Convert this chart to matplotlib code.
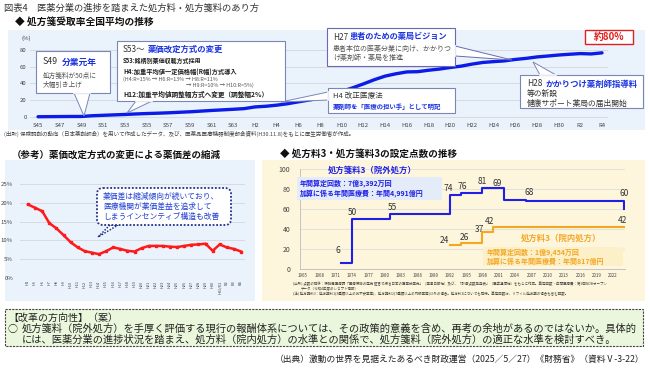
import matplotlib
matplotlib.use('Agg')

import matplotlib.pyplot as plt
from matplotlib.patches import Rectangle, Polygon, FancyBboxPatch

plt.rcParams['font.family'] = ['Noto Sans CJK JP', 'DejaVu Sans']

W, H = 650, 373

# 処方箋受取率 全国平均 (%), S45(1970) - R4(2022)
rate_years = list(range(1970, 2023))
rate_values = [0.3, 0.4, 0.5, 0.6, 0.6, 1.5, 2.0, 2.5, 3.0, 3.6,
               4.1, 4.5, 5.0, 5.6, 6.2, 7.0, 7.8, 8.5, 9.2, 10.0,
               12.0, 12.8, 14.1, 15.8, 18.1, 20.3, 22.5, 26.0, 30.5, 34.8,
               39.5, 44.5, 48.8, 51.6, 53.8, 54.1, 55.8, 57.2, 59.1, 60.7,
               63.1, 65.1, 66.1, 67.0, 68.7, 70.0, 71.7, 72.8, 74.0, 74.9,
               75.7, 75.3, 76.6]
top_tick_years = list(range(1970, 2023, 2))
top_tick_labels = (['S%d' % n for n in range(45, 64, 2)]
                   + ['H%d' % n for n in range(2, 31, 2)] + ['R2', 'R4'])

# 薬価差 (%)
gap_labels = ['H%d' % n for n in range(4, 31)] + ['H31/R1', 'R2', 'R3', 'R4']
gap_values = [19.6, 18.7, 17.8, 14.6, 13.2, 11.4, 9.5, 8.1, 7.1, 6.7,
              6.3, 7.1, 8.1, 7.7, 7.2, 7.0, 7.9, 8.5, 8.5, 8.5,
              8.3, 8.2, 8.5, 8.8, 8.9, 9.1, 7.2, 8.9, 8.1, 7.7, 7.0]

# 処方箋料3（院外処方） / 処方料3（院内処方）の点数
out_years = [1972, 1974, 1981, 1992, 1994, 1998, 2002, 2006, 2024]
out_points = [6, 50, 55, 74, 76, 81, 69, 68, 60]
in_years = [1992, 1994, 1998, 2000, 2024]
in_points = [24, 26, 37, 42, 42]
right_ticks = list(range(1965, 2023, 3))

fig = plt.figure(figsize=(6.5, 3.73), dpi=100)


def px_axes(x0, y0, x1, y1, **kw):
    return fig.add_axes([x0 / W, 1 - y1 / H, (x1 - x0) / W, (y1 - y0) / H], **kw)


bg = px_axes(0, 0, W, H, zorder=-5)
bg.set_xlim(0, W)
bg.set_ylim(H, 0)
bg.axis('off')
bg.add_patch(Rectangle((8, 30), 637, 100, fc='#eaf2fb', ec='none'))
bg.add_patch(Rectangle((5, 160), 250, 141, fc='#eaf2fb', ec='none'))
bg.add_patch(Rectangle((262, 160), 383, 141, fc='#fdf6dc', ec='none'))

# ---- top chart
ax1 = px_axes(30, 45.8, 608, 119.5)
ax1.set_facecolor('none')
ax1.plot(rate_years, rate_values, color='#0b1be8', lw=2.4, solid_capstyle='round')
ax1.set_xlim(1969.26, 2022.55)
ax1.set_ylim(-3, 85)
ax1.set_yticks([0, 20, 40, 60, 80])
ax1.set_xticks(top_tick_years, top_tick_labels)
ax1.tick_params(length=0, labelsize=4.3, labelcolor='#444444', pad=2.5)
ax1.grid(axis='y', color='#d3d7dd', lw=0.6)
for s in ax1.spines.values():
    s.set_visible(False)

# ---- bottom left chart
ax2 = px_axes(20, 182.4, 245, 277.7)
ax2.set_facecolor('none')
ax2.plot(range(len(gap_values)), gap_values, color='#ff1a1a', lw=1.8,
         marker='s', ms=1.8)
ax2.set_xlim(-1.13, 30.56)
ax2.set_ylim(0, 25.5)
ax2.set_yticks([0, 5, 10, 15, 20, 25], ['0%', '5%', '10%', '15%', '20%', '25%'])
ax2.set_xticks(range(len(gap_labels)), gap_labels, rotation=90)
ax2.tick_params(axis='y', length=0, labelsize=4.3, labelcolor='#444444', pad=5)
ax2.tick_params(axis='x', length=0, labelsize=2.8, labelcolor='#444444', pad=2)
ax2.grid(axis='y', color='#d3d7dd', lw=0.6)
for s in ax2.spines.values():
    s.set_visible(False)

# ---- bottom right chart
ax3 = px_axes(300, 169, 625, 269)
ax3.set_facecolor('none')
ax3.step(out_years, out_points, where='post', color='#1f1fe6', lw=1.5)
ax3.step(in_years, in_points, where='post', color='#f5a623', lw=1.5)
ax3.set_xlim(1964.45, 2024.2)
ax3.set_ylim(0, 100)
ax3.set_yticks([0, 20, 40, 60, 80, 100])
ax3.set_xticks(right_ticks)
ax3.tick_params(axis='y', length=0, labelsize=5, labelcolor='#444444', pad=7)
ax3.tick_params(axis='x', length=0, labelsize=3.2, labelcolor='#444444', pad=3)
ax3.grid(axis='y', color='#dddddd', lw=0.6)
for k in ['top', 'right']:
    ax3.spines[k].set_visible(False)
ax3.spines['left'].set_color('#bbbbbb')
ax3.spines['bottom'].set_color('#bbbbbb')
ax3.spines['left'].set_linewidth(0.6)
ax3.spines['bottom'].set_linewidth(0.6)

out_offsets = [(-2, 9), (0, 5), (2, 5), (-1, 5), (1, 5), (0, 5), (-5, 12), (2, 6), (0, 11)]
for x, v, off in zip(out_years, out_points, out_offsets):
    ax3.annotate(str(v), (x, v), xytext=off, textcoords='offset points',
                 ha='center', va='center', fontsize=6, color='#333333')
in_offsets = [(-4, 3), (3, 4), (-2, 2), (-3, 4), (-1, 5)]
for x, v, off in zip(in_years, in_points, in_offsets):
    ax3.annotate(str(v), (x, v), xytext=off, textcoords='offset points',
                 ha='center', va='center', fontsize=6, color='#333333')

# ---- overlay (boxes, texts)
ov = px_axes(0, 0, W, H, zorder=5)
ov.set_xlim(0, W)
ov.set_ylim(H, 0)
ov.axis('off')


def t(x, y, s, size, color='#222222', weight='normal', ha='left', **kw):
    ov.text(x, y, s, fontsize=size, color=color, fontweight=weight, ha=ha,
            va='center', **kw)


def callout(x0, y0, x1, y1, base, apex, ec='#7b86b8'):
    ov.add_patch(Polygon([base[0], apex, base[1]], closed=True, fc='white',
                         ec=ec, lw=0.7, zorder=1))
    ov.add_patch(Rectangle((x0, y0), x1 - x0, y1 - y0, fc='white', ec=ec,
                           lw=0.8, zorder=2))
    ov.plot([base[0][0], base[1][0]], [base[0][1], base[1][1]],
            color='white', lw=1.2, zorder=3)


BLUE = '#1a33e0'
GRAY = '#555555'

t(4, 8, '図表4　医薬分業の進捗を踏まえた処方料・処方箋料のあり方', 6.7, '#333333')
t(15, 22, '◆ 処方箋受取率全国平均の推移', 7, '#111111', 'bold')
t(22, 38, '(%)', 4.3, '#444444')

callout(36, 51, 110, 93, [(74, 93), (90, 93)], (84, 116))
t(43, 62, 'S49', 6.3, '#333333')
t(62, 62, '分業元年', 6.3, BLUE, 'bold')
t(43, 76, '処方箋料が50点に', 4.8, GRAY)
t(43, 85, '大幅引き上げ', 4.8, GRAY)

callout(117, 41, 285, 101, [(136, 101), (152, 101)], (127, 113))
t(123, 49, 'S53～', 6, '#333333')
t(148, 49, '薬価改定方式の変更', 6, BLUE, 'bold')
t(123, 61, 'S53:銘柄別薬価収載方式採用', 4.3, '#222222', 'bold')
t(123, 72, 'H4:加重平均値一定価格幅(R幅)方式導入', 4.5, '#222222', 'bold')
t(123, 79, '(H4:R=15% → H6:R=13% → H8:R=11%', 3.9, GRAY)
t(186, 85, '→ H9:R=10% → H10:R=5%)', 3.9, GRAY)
t(123, 94, 'H12:加重平均値調整幅方式へ変更（調整幅2%）', 4.8, '#222222', 'bold')

callout(328, 88, 455, 113, [(328, 92), (328, 100)], (281, 102))
t(333, 96, 'H4 改正医療法', 5.5, '#333333')
t(333, 107, '薬剤師を「医療の担い手」として明記', 4.6, BLUE, 'bold')

callout(327, 28, 455, 66, [(455, 46), (455, 56)], (512, 60), ec='#6a6ab4')
t(333, 37, 'H27', 5.9, '#333333')
t(350, 37, '患者のための薬局ビジョン', 5.9, BLUE, 'bold')
t(333, 49, '患者本位の医薬分業に向け、かかりつ', 5, GRAY)
t(333, 58, 'け薬剤師・薬局を推進', 5, GRAY)

callout(520, 75, 643, 108, [(540, 75), (556, 75)], (533, 62))
t(527, 84, 'H28', 6, '#333333')
t(546, 84, 'かかりつけ薬剤師指導料', 6, BLUE, 'bold')
t(527, 94, '等の新設', 5.6, '#333333')
t(527, 104, '健康サポート薬局の届出開始', 5.6, '#333333')

ov.add_patch(Rectangle((585, 30), 48, 14, fc='white', ec='#e02020', lw=1.0))
t(609, 37, '約80%', 7, '#e02020', 'bold', ha='center')

t(4, 134, '(出所) 保険調剤の動向（日本薬剤師会）を用いて作成したデータ、及び、'
          '医薬品医療機器制度部会資料(H30.11.8)をもとに厚生労働省が作成。', 4.0, '#444444')

# bottom left texts
t(12, 155, '（参考）薬価改定方式の変更による薬価差の縮減', 6.8, '#111111', 'bold')
ov.add_patch(Polygon([(110, 225), (98, 237), (118, 225)], closed=True, fc='white',
                     ec='#1f2f8f', lw=1.1, ls=(0, (1, 1)), zorder=1))
ov.add_patch(FancyBboxPatch((97, 188), 134, 37,
                            boxstyle='round,pad=0,rounding_size=6',
                            fc='white', ec='#1f2f8f', lw=1.3, ls=(0, (1, 1)), zorder=2))
for i, line in enumerate(['薬価差は縮減傾向が続いており、',
                          '医療機関が薬価差益を追求して',
                          'しまうインセンティブ構造も改善']):
    t(103, 197 + i * 10, line, 5.6, '#2040d0')

# bottom right texts
t(280, 154, '◆ 処方料3・処方箋料3の設定点数の推移', 6.9, '#111111', 'bold')
t(372, 170, '処方箋料3（院外処方）', 6, '#1f1fe6', 'bold', ha='center')
ov.add_patch(Rectangle((297, 177), 145, 23, fc='#e3ecf8', ec='none'))
t(300, 183, '年間算定回数：7億3,392万回', 5, '#1f1fe6', 'bold')
t(300, 193, '加算に係る年間医療費：年間4,991億円', 5, '#1f1fe6', 'bold')
t(561, 238, '処方料3（院内処方）', 6, '#f5a623', 'bold', ha='center')
ov.add_patch(Rectangle((483, 247), 140, 19, fc='#fcf0c8', ec='none'))
t(487, 252, '年間算定回数：1億9,454万回', 5, '#f5a623', 'bold')
t(487, 261, '加算に係る年間医療費：年間817億円', 5, '#f5a623', 'bold')
t(293, 284, '(出所) 点数の推移：保険局医療課「医療保険の歴史 証言で綴る日本の医薬分業史」（薬事日報社）'
            '及び、「診療点数早見表」（医学通信社）をもとに作成。算定回数・年間医療費：第9回NDBオープン', 2.5, '#444444')
t(301, 289, 'データ（令和4年度のレセプト情報）', 2.5, '#444444')
t(293, 294, '(注) 処方箋料3：処方箋料1(3種類以上の抗不安薬等)、処方箋料2(7種類以上の内服薬等)以外の場合。'
            '処方料3についても同様。算定回数は、リフィル処方箋の場合も含む回数。', 2.5, '#444444')

# reform box
ov.add_patch(Rectangle((5, 309), 638, 37, fc='#ebf7dc', ec='#444444', lw=0.8,
                       ls=(0, (2, 1))))
t(8, 318, '【改革の方向性】（案）', 7.2, '#222222')
t(8, 329, '○', 7.2, '#222222')
t(22, 329, '処方箋料（院外処方）を手厚く評価する現行の報酬体系については、その政策的意義を含め、'
           '再考の余地があるのではないか。具体的', 7.4, '#222222')
t(22, 340, 'には、医薬分業の進捗状況を踏まえ、処方料（院内処方）の水準との関係で、'
           '処方箋料（院外処方）の適正な水準を検討すべき。', 7.4, '#222222')
t(645, 359, '（出典）激動の世界を見据えたあるべき財政運営（2025／5／27）《財務省》（資料Ⅴ-3-22）',
  6.3, '#222222', ha='right')

fig.savefig('out.png', dpi=100)
